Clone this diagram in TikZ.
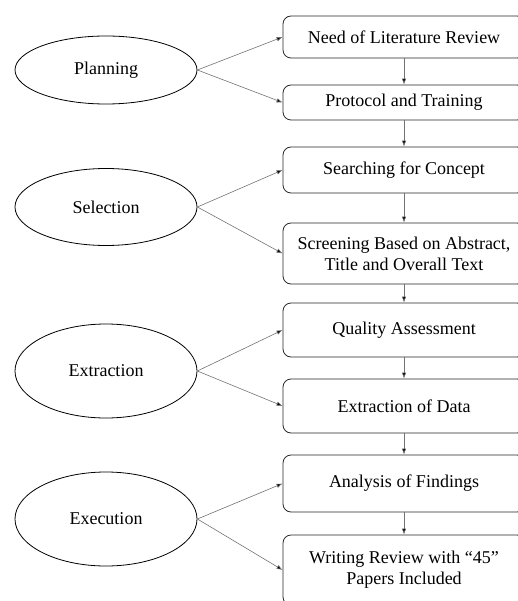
\documentclass[tikz,border=0pt]{standalone}
\usepackage{fontspec}
\setmainfont{Liberation Serif}
\usetikzlibrary{positioning}
\usetikzlibrary{arrows.meta}
\usetikzlibrary{shapes.geometric}

\begin{document}
\begin{tikzpicture}[x=1pt,y=-1pt,
    phase/.style={ellipse,draw=black,line width=0.8pt,inner sep=0pt,minimum width=182pt,font=\fontsize{18}{21}\selectfont},
    stepbox/.style={draw=black!85,line width=0.8pt,rounded corners=8pt,minimum width=242pt,align=center,font=\fontsize{18}{21}\selectfont},
    link/.style={draw=black!55,line width=0.6pt,-{Latex[length=6pt,width=4.5pt,fill=black]}}]

        \useasboundingbox (0,0) rectangle (518,601);

        % phases
        \node[phase,minimum height=68pt] (plan) at (106,70) {Planning};
        \node[phase,minimum height=77pt] (sel) at (106,207) {Selection};
        \node[phase,minimum height=94pt] (extr) at (106,371) {Extraction};
        \node[phase,minimum height=94pt] (exec) at (106,519) {Execution};

        % steps
        \node[stepbox,minimum height=42pt] (need) at (404,37) {Need of Literature Review};
        \node[stepbox,minimum height=35pt] (proto) at (404,102.5) {Protocol and Training};
        \node[stepbox,minimum height=46pt] (search) at (404,170) {Searching for Concept};
        \node[stepbox,minimum height=61pt] (screen) at (404,253.5) {Screening Based on Abstract,\\Title and Overall Text};
        \node[stepbox,minimum height=54pt] (quality) at (404,330) {Quality Assessment};
        \node[stepbox,minimum height=54pt] (data) at (404,406) {Extraction of Data};
        \node[stepbox,minimum height=57pt] (findings) at (404,483.5) {Analysis of Findings};
        \node[stepbox,minimum height=70pt] (writing) at (404,570) {Writing Review with ``45''\\Papers Included};

        \draw[link] (plan.east) -- (need.west);
        \draw[link] (plan.east) -- (proto.west);
        \draw[link] (sel.east) -- (search.west);
        \draw[link] (sel.east) -- (screen.west);
        \draw[link] (extr.east) -- (quality.west);
        \draw[link] (extr.east) -- (data.west);
        \draw[link] (exec.east) -- (findings.west);
        \draw[link] (exec.east) -- (writing.west);

        \draw[link] (need) -- (proto);
        \draw[link] (proto) -- (search);
        \draw[link] (search) -- (screen);
        \draw[link] (screen) -- (quality);
        \draw[link] (quality) -- (data);
        \draw[link] (data) -- (findings);
        \draw[link] (findings) -- (writing);
\end{tikzpicture}
\end{document}
